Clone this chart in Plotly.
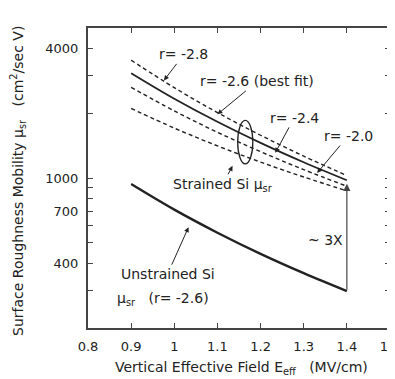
import math
import plotly.graph_objects as go

# ---- data ----
E = [0.9, 1.0, 1.1, 1.2, 1.3, 1.4]
mu_r28 = [3540, 2636, 2018, 1582, 1264, 1027]   # r = -2.8 (dashed)
mu_r26 = [3080, 2342, 1828, 1458, 1184, 976]    # r = -2.6 best fit (solid)
mu_r24 = [2645, 2054, 1634, 1326, 1094, 916]    # r = -2.4 (dashed)
mu_r20 = [2109, 1708, 1412, 1186, 1011, 871]    # r = -2.0 (dashed)
mu_unstrained = [937, 712, 556, 443, 360, 297]  # unstrained Si, r = -2.6
arrow_top = 940

x_ticks = [0.8, 0.9, 1.0, 1.1, 1.2, 1.3, 1.4, 1.5]
x_ticktext = ["0.8", "0.9", "1", "1.1", "1.2", "1.3", "1.4", "1.5"]
y_ticks = [200, 300, 400, 500, 600, 700, 800, 900, 1000, 2000, 3000, 4000, 5000]
y_labels = {400: "400", 700: "700", 1000: "1000", 4000: "4000"}

FONT = "DejaVu Sans"
INK = "#222222"
AF = 14  # annotation font size

fig = go.Figure()
dash = "4px,3px"
for ys, d, w in [(mu_r28, dash, 1.4), (mu_r26, "solid", 1.8), (mu_r24, dash, 1.4),
                 (mu_r20, dash, 1.4), (mu_unstrained, "solid", 2.4)]:
    fig.add_trace(go.Scatter(x=E, y=ys, mode="lines",
                             line=dict(color=INK, width=w, dash=d, shape="spline"),
                             showlegend=False, hoverinfo="skip"))

L = math.log10

ann = []
def arrow_note(text, x, y, ax, ay, **kw):
    d = dict(x=x, y=L(y), xref="x", yref="y", text=text, showarrow=True,
             ax=ax, ay=ay, arrowhead=2, arrowsize=1, arrowwidth=1,
             arrowcolor=INK, font=dict(family=FONT, size=AF, color=INK))
    d.update(kw)
    ann.append(d)

arrow_note("r= -2.8", 0.976, 2850, 20, -26)
arrow_note("r= -2.6 (best fit)", 1.10, 1980, 40, -33)
arrow_note("r= -2.4", 1.234, 1310, 19, -35)
arrow_note("r= -2.0", 1.331, 1055, 31, -37)
arrow_note("Strained Si μ<sub>sr</sub>", 1.135, 1139, -10, 19)
arrow_note("Unstrained Si", 1.033, 590, -21, 47)

ann.append(dict(x=0.863, y=L(274), xref="x", yref="y", xanchor="left",
                text="μ<sub>sr</sub>   (r= -2.6)", showarrow=False,
                font=dict(family=FONT, size=AF, color=INK)))
ann.append(dict(x=1.395, y=L(512), xref="x", yref="y", xanchor="right",
                text="~ 3X", showarrow=False,
                font=dict(family=FONT, size=AF, color=INK)))
# vertical ~3X arrow
ann.append(dict(x=1.4, y=L(arrow_top), xref="x", yref="y",
                ax=1.4, ay=L(mu_unstrained[-1]), axref="x", ayref="y",
                showarrow=True, arrowhead=2, arrowsize=1.2, arrowwidth=1.2,
                arrowcolor="#444", text=""))
# axis titles
ann.append(dict(x=-0.232, y=0.49, xref="paper", yref="paper", textangle=-90,
                xanchor="center", yanchor="middle",
                text="Surface Roughness Mobility μ<sub>sr</sub>   (cm<sup>2</sup>/sec V)",
                showarrow=False, font=dict(family=FONT, size=14, color=INK)))
ann.append(dict(x=0.507, y=-0.133, xref="paper", yref="paper",
                xanchor="center", yanchor="middle",
                text="Vertical Effective Field E<sub>eff</sub>   (MV/cm)",
                showarrow=False, font=dict(family=FONT, size=14, color=INK)))

# ellipse around strained curves
fig.add_shape(type="circle", xref="x", yref="y",
              x0=1.147, x1=1.182, y0=1163, y1=1854,
              line=dict(color=INK, width=1.3))

fig.update_layout(
    width=395, height=371,
    margin=dict(l=80, r=13, t=20, b=51, autoexpand=False),
    paper_bgcolor="white", plot_bgcolor="white",
    annotations=ann,
    xaxis=dict(range=[0.8, 1.5], tickvals=x_ticks, ticktext=x_ticktext,
               ticks="inside", ticklen=5, tickcolor="#444", mirror="allticks",
               showline=True, linecolor="#444", linewidth=2, showgrid=False,
               zeroline=False, ticklabelstandoff=5, automargin=False,
               ticklabeloverflow="allow",
               tickfont=dict(family=FONT, size=13, color=INK)),
    yaxis=dict(type="log", range=[L(200), L(5000)], tickvals=y_ticks,
               ticktext=[y_labels.get(v, "") for v in y_ticks],
               ticks="inside", ticklen=5, tickcolor="#444", mirror="allticks",
               showline=True, linecolor="#444", linewidth=2, showgrid=False,
               zeroline=False, ticklabelstandoff=5, automargin=False,
               tickfont=dict(family=FONT, size=13, color=INK)),
)

fig.write_html("out.html")
